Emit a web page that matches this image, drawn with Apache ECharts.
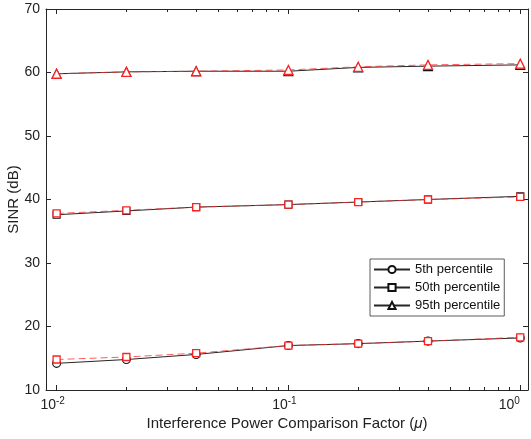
<!DOCTYPE html>
<html>
<head>
<meta charset="utf-8">
<script src="https://cdn.jsdelivr.net/npm/echarts@6/dist/echarts.min.js"></script>
<style>html,body{margin:0;padding:0;background:#fff;}#c{width:531px;height:439px;}</style>
</head>
<body>
<div id="c"></div>
<script>
const xValues = [0.01, 0.02, 0.04, 0.1, 0.2, 0.4, 1];
const p5Black = [14.2, 14.8, 15.6, 17.0, 17.3, 17.7, 18.2];
const p5Red = [14.8, 15.2, 15.8, 17.0, 17.3, 17.7, 18.3];
const p50Black = [37.6, 38.2, 38.8, 39.2, 39.6, 40.0, 40.5];
const p50Red = [37.8, 38.3, 38.8, 39.2, 39.6, 40.0, 40.4];
const p95Black = [59.8, 60.1, 60.2, 60.2, 60.8, 61.0, 61.2];
const p95Red = [59.8, 60.1, 60.2, 60.4, 60.9, 61.2, 61.4];
const legendNames = ['5th percentile', '50th percentile', '95th percentile'];
const majorTicks = [0.01, 0.1, 1];
const minorTicks = [0.02,0.03,0.04,0.05,0.06,0.07,0.08,0.09,0.2,0.3,0.4,0.5,0.6,0.7,0.8,0.9];
const yTicks = [10, 20, 30, 40, 50, 60, 70];

const FONT = 'Liberation Sans, Arial, Helvetica, sans-serif';
const pairs = ys => xValues.map((x, i) => [x, ys[i]]);

const xBase = {type: 'log', logBase: 10, min: 0.009, max: 1.08, splitLine: {show: false}, minorTick: {show: false}};
const axisLineStyle = {lineStyle: {color: '#262626', width: 1}};

function blackSeries(name, data, symbol, size) {
  return {name, type: 'line', data: pairs(data), symbol, symbolSize: size,
    lineStyle: {color: '#262626', width: 1},
    itemStyle: {color: '#fff', borderColor: '#111', borderWidth: 1.1},
    z: 2, animation: false};
}
function redSeries(name, data, symbol, size) {
  return {name, type: 'line', data: pairs(data), symbol, symbolSize: size,
    lineStyle: {color: 'rgba(255,40,40,0.75)', width: 1, type: [7, 4]},
    itemStyle: {color: '#fff', borderColor: '#ff2020', borderWidth: 1.3},
    z: 3, animation: false};
}

const chart = echarts.init(document.getElementById('c'), null, {renderer: 'canvas'});
chart.setOption({
  animation: false,
  backgroundColor: '#fff',
  textStyle: {fontFamily: FONT},
  grid: {left: 46, right: 3, top: 9, bottom: 49, containLabel: false, outerBoundsMode: 'none'},
  xAxis: [
    Object.assign({}, xBase, {position: 'bottom',
      name: 'Interference Power Comparison Factor ({it|μ})', nameLocation: 'middle', nameGap: 26,
      nameMoveOverlap: false,
      nameTextStyle: {fontSize: 15, color: '#222', fontFamily: FONT, rich: {it: {fontStyle: 'italic', fontSize: 15, fontFamily: FONT, color: '#222'}}},
      axisLine: axisLineStyle,
      axisTick: {show: true, inside: true, length: 5, customValues: majorTicks, lineStyle: {color: '#262626'}},
      axisLabel: {show: true, customValues: majorTicks, margin: 6, color: '#222', fontSize: 14, fontFamily: FONT,
        padding: [0, 8, 0, 0],
        formatter: v => '10{' + (v >= 1 ? 'supEnd' : 'sup') + '|' + Math.round(Math.log10(v)) + '}',
        rich: {
          sup: {fontSize: 10, fontFamily: FONT, color: '#222', verticalAlign: 'top', padding: [0, 0, 9, 0]},
          supEnd: {fontSize: 10, fontFamily: FONT, color: '#222', verticalAlign: 'top', padding: [0, 14, 9, 0]}
        }}
    }),
    Object.assign({}, xBase, {position: 'bottom', axisLine: {show: false},
      axisTick: {show: true, inside: true, length: 3, customValues: minorTicks, lineStyle: {color: '#262626'}},
      axisLabel: {show: false}}),
    Object.assign({}, xBase, {position: 'top', axisLine: axisLineStyle,
      axisTick: {show: true, inside: true, length: 5, customValues: majorTicks, lineStyle: {color: '#262626'}},
      axisLabel: {show: false}}),
    Object.assign({}, xBase, {position: 'top', axisLine: {show: false},
      axisTick: {show: true, inside: true, length: 3, customValues: minorTicks, lineStyle: {color: '#262626'}},
      axisLabel: {show: false}})
  ],
  yAxis: [
    {type: 'value', min: 10, max: 70, interval: 10, position: 'left',
      name: 'SINR (dB)', nameLocation: 'middle', nameGap: 25, nameMoveOverlap: false,
      nameTextStyle: {fontSize: 15, color: '#222', fontFamily: FONT},
      splitLine: {show: false}, axisLine: {show: true, lineStyle: {color: '#262626'}},
      axisTick: {show: true, inside: true, length: 5, customValues: yTicks, lineStyle: {color: '#262626'}},
      axisLabel: {color: '#222', fontSize: 14, margin: 6, fontFamily: FONT, customValues: yTicks}},
    {type: 'value', min: 10, max: 70, interval: 10, position: 'right',
      splitLine: {show: false}, axisLine: {show: true, lineStyle: {color: '#262626'}},
      axisTick: {show: true, inside: true, length: 5, customValues: yTicks, lineStyle: {color: '#262626'}},
      axisLabel: {show: false}}
  ],
  legend: {
    data: legendNames,
    orient: 'vertical', left: 370, top: 259,
    backgroundColor: '#fff', borderColor: '#333', borderWidth: 0.8, borderRadius: 0,
    padding: [4, 4, 4, 3], itemGap: 5, itemWidth: 36, itemHeight: 9,
    textStyle: {fontSize: 13, color: '#111', fontFamily: FONT, lineHeight: 13}
  },
  series: [
    blackSeries(legendNames[0], p5Black, 'circle', 8),
    blackSeries(legendNames[1], p50Black, 'rect', 7),
    blackSeries(legendNames[2], p95Black, 'triangle', 9),
    redSeries('red5', p5Red, 'rect', 7),
    redSeries('red50', p50Red, 'rect', 7),
    redSeries('red95', p95Red, 'triangle', 9)
  ]
});
</script>
</body>
</html>
